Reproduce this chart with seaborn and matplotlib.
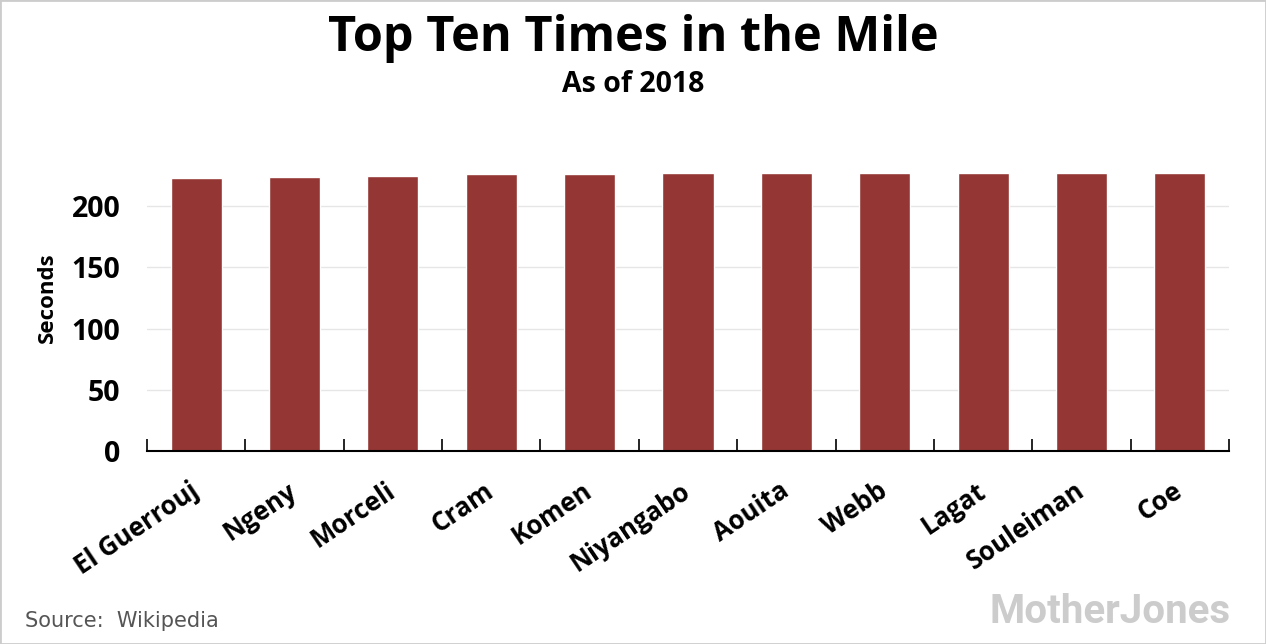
import matplotlib
matplotlib.use("Agg")
import matplotlib.pyplot as plt
import seaborn as sns
import pandas as pd
import numpy as np
from matplotlib.patches import Rectangle

# Données : meilleurs temps sur le mile (secondes)
runners = ["El Guerrouj", "Ngeny", "Morceli", "Cram", "Komen", "Niyangabo",
           "Aouita", "Webb", "Lagat", "Souleiman", "Coe"]
seconds = [223.13, 223.40, 224.39, 226.32, 226.38, 226.70,
           226.76, 226.91, 227.28, 227.32, 227.33]
y_ticks = [0, 50, 100, 150, 200]

df = pd.DataFrame({"runner": runners, "seconds": seconds})

sns.set_theme(style="white")
plt.rcParams["font.family"] = ["Open Sans", "DejaVu Sans"]
plt.rcParams["text.color"] = "black"
plt.rcParams["xtick.color"] = "black"
plt.rcParams["ytick.color"] = "black"
plt.rcParams["axes.labelcolor"] = "black"

fig = plt.figure(figsize=(12.66, 6.44), dpi=100)
ax = fig.add_axes([0.1161, 0.2997, 0.8547, 0.4753])

sns.barplot(data=df, x="runner", y="seconds", color="#943634", saturation=1,
            width=0.52, ax=ax)

ax.set_ylim(0, 250)
ax.set_xlim(-0.5, len(runners) - 0.5)
ax.set_yticks(y_ticks)
ax.set_yticklabels([str(t) for t in y_ticks], fontsize=20.5, fontweight="bold")
for t in y_ticks[1:]:
    ax.axhline(t, color="#e6e6e6", lw=1, zorder=0)

ax.set_xticks(range(len(runners)))
ax.set_xticklabels(runners, rotation=34, ha="right", va="center",
                   rotation_mode="anchor", fontsize=18.5, fontweight="bold")
ax.set_xticks(np.arange(-0.5, len(runners)), minor=True)
ax.tick_params(axis="x", which="major", length=0, pad=27)
ax.tick_params(axis="x", which="minor", length=9, width=1.2, direction="in",
               color="black", bottom=True)
ax.tick_params(axis="y", length=0, pad=19)

for s in ["top", "right", "left"]:
    ax.spines[s].set_visible(False)
ax.spines["bottom"].set_color("black")
ax.spines["bottom"].set_linewidth(1.5)

ax.set_xlabel("")
ax.set_ylabel("Seconds", fontsize=16, fontweight="bold", labelpad=10)

fig.text(0.5, 0.94, "Top Ten Times in the Mile", ha="center", va="center",
         fontsize=35, fontweight="bold")
fig.text(0.5, 0.869, "As of 2018", ha="center", va="center",
         fontsize=20.5, fontweight="bold")
fig.text(0.020, 0.035, "Source:  Wikipedia", ha="left", va="center",
         fontsize=15, color="#555555", family="DejaVu Sans")
fig.text(0.972, 0.05, "MotherJones", ha="right", va="center",
         fontsize=29, fontweight="bold", color="#cccccc",
         family=["Roboto", "DejaVu Sans"])

fig.patches.append(Rectangle((0, 0), 1, 1, transform=fig.transFigure,
                             fill=False, edgecolor="#cccccc", lw=2))

fig.savefig("out.png", dpi=100)
